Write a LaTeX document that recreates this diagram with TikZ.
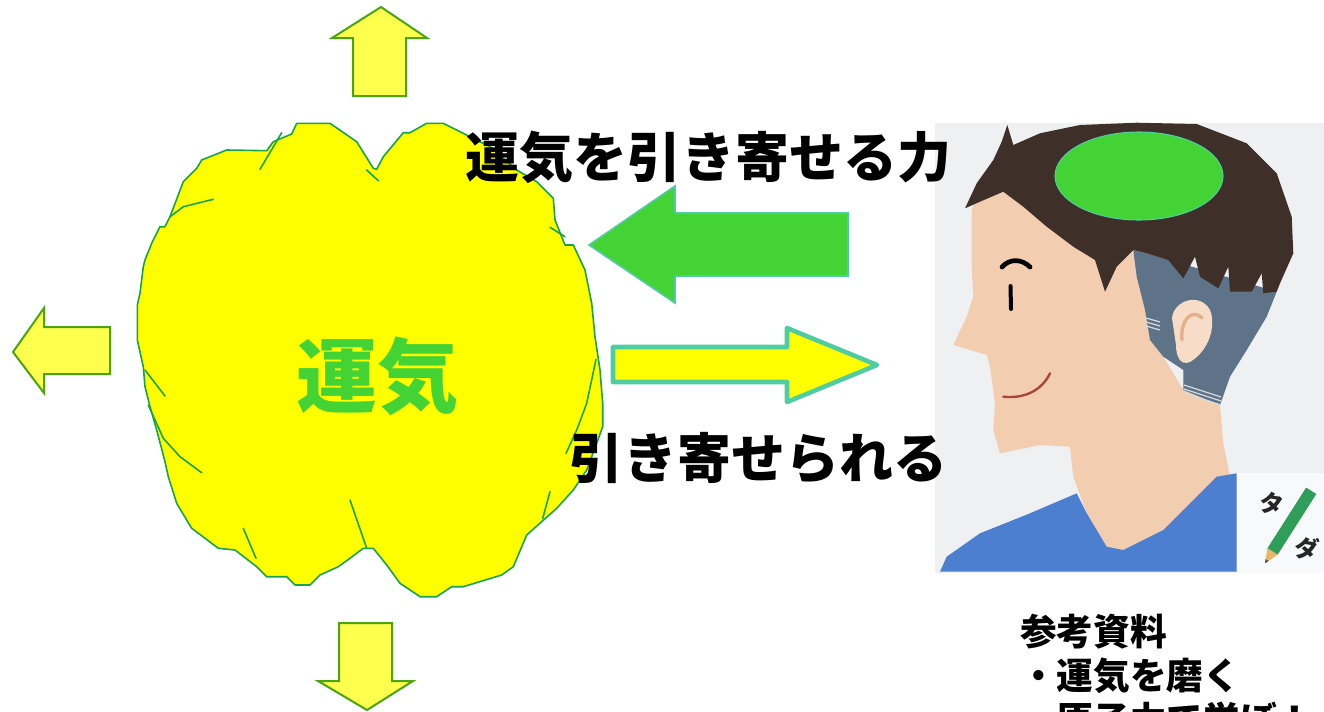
\documentclass[tikz,border=0pt]{standalone}
\usepackage{fontspec}
\newfontfamily\jp{Noto Sans CJK JP}
\definecolor{blobfill}{HTML}{FFFF00}
\definecolor{blobline}{HTML}{17A44C}
\definecolor{smallfill}{HTML}{FFFF4D}
\definecolor{smallline}{HTML}{4AA512}
\definecolor{luckgreen}{HTML}{44D334}
\definecolor{tealline}{HTML}{4FCDA2}
\definecolor{photobg}{HTML}{EEF0F2}
\definecolor{hairdark}{HTML}{3E2F29}
\definecolor{hairgray}{HTML}{5F7388}
\definecolor{skin}{HTML}{F3CDAF}
\definecolor{earlight}{HTML}{F7DDC8}
\definecolor{earshade}{HTML}{E3B08E}
\definecolor{shirt}{HTML}{4C7FCF}
\definecolor{lips}{HTML}{A8453E}
\definecolor{pencilgreen}{HTML}{2E9E5A}
\definecolor{penciltip}{HTML}{E8B56A}
\begin{document}
\begin{tikzpicture}[x=0.75pt,y=-0.75pt,
  smallarrow/.style={fill=smallfill,draw=smallline,line width=1.5pt,line join=miter},
  pullarrow/.style={fill=luckgreen,draw=tealline,line width=1.2pt,line join=miter},
  pushedarrow/.style={fill=blobfill,draw=tealline,line width=3.4pt,line join=round},
  blob/.style={fill=blobfill,draw=blobline,line width=1.2pt,line join=round},
  crease/.style={draw=blobline,line width=1.2pt,line cap=round},
  bigtext/.style={font=\jp\bfseries\fontsize{40.5pt}{44pt}\selectfont,inner sep=0pt},
  notetext/.style={font=\jp\bfseries\fontsize{27.5pt}{33pt}\selectfont,inner sep=0pt,anchor=west},
]
\clip (0,0) rectangle (1324,711);
\fill[white] (0,0) rectangle (1324,711);

% --- outward pointing block arrows around the luck cloud ---
\draw[smallarrow] (381,7) -- (427,38) -- (406,38) -- (406,96) -- (353,96) -- (353,38) -- (332,38) -- cycle;
\draw[smallarrow] (13,352) -- (44,308) -- (44,327) -- (110,327) -- (110,374) -- (44,374) -- (44,393) -- cycle;
\draw[smallarrow] (367,710) -- (413,681) -- (392,681) -- (392,623) -- (339,623) -- (339,681) -- (318,681) -- cycle;

% --- the luck cloud ---
\draw[blob] (296.7,123.3) -- (330,123.3) -- (356.7,141.7) -- (373.3,168.3) -- (376.7,169.3)
  -- (383.3,156.7) -- (403.3,132.7) -- (410,132.7) -- (426.7,123.3) -- (443.3,123.3)
  -- (463.3,133.3) -- (490,146.7) -- (516.7,170) -- (536.7,181.7) -- (553.3,198.3)
  -- (555,220) -- (565,245) -- (573.3,245) -- (585,270) -- (591.7,303.3) -- (595,336.7)
  -- (600,370) -- (602.7,403.3) -- (602.7,426.7) -- (596.7,443.3) -- (586.7,470)
  -- (573.3,490) -- (556.7,508.3) -- (526.7,535) -- (513.3,566.7) -- (501.7,575)
  -- (463.3,586.7) -- (451.7,586.7) -- (436.7,596.7) -- (420,596.7) -- (400,583.3)
  -- (386.7,565) -- (373.3,548.3) -- (363.3,548.3) -- (350,558.3) -- (338.3,566.7)
  -- (320,575) -- (310,585) -- (295,585) -- (286.7,576.7) -- (266.7,576.7) -- (256.7,566.7)
  -- (235,550) -- (218.3,548.3) -- (191.7,528.3) -- (176.7,503.3) -- (168.3,476.7)
  -- (165,461.7) -- (156.7,430) -- (150,406.7) -- (145,386.7) -- (143.3,366.7)
  -- (137.3,340) -- (137.3,305) -- (140,293.3) -- (143.3,266.7) -- (145,260)
  -- (151.7,243.3) -- (160,226.7) -- (165,226.7) -- (170,216.7) -- (183.3,181.7)
  -- (196.7,168.3) -- (201.7,160) -- (226.7,150) -- (266.7,150.7) -- (273.3,141.7)
  -- (291.7,134) -- cycle;
\draw[crease] (260,169.3) -- (281.7,132.7);
\draw[crease] (366.7,170) -- (378.3,180.7);
\draw[crease] (170,216.7) -- (183.3,206.7) -- (213.3,199.3);
\draw[crease] (550,227.3) -- (565,236.7);
\draw[crease] (145,370) -- (165,396);
\draw[crease] (148.3,405) -- (163.3,438.3) -- (180,456.7) -- (201.7,472.7);
\draw[crease] (596,359.3) -- (586.7,403.3) -- (576.7,430) -- (566,453.3);
\draw[crease] (350,500) -- (366.7,548.3);
\draw[crease] (243.3,528.3) -- (256,558.3);
\draw[crease] (550,491.7) -- (542.7,518.3);
\node[font=\jp\bfseries\fontsize{60.75pt}{64pt}\selectfont,inner sep=0pt,text=luckgreen] (luck) at (377,376) {運気};

% --- the pair of arrows between the cloud and the person ---
\draw[pullarrow] (589,245) -- (675,186) -- (675,213) -- (848,213) -- (848,276) -- (675,276) -- (675,303) -- cycle;
\draw[pushedarrow] (613,347) -- (787,347) -- (787,328) -- (877,365) -- (787,402) -- (787,382) -- (613,382) -- cycle;

% --- the person in profile ---
\fill[photobg] (935,123) rectangle (1324,573);
\fill[white!60!photobg] (1237,473) rectangle (1324,573);
\fill[skin] (980,186.7) -- (1096.7,186.7) -- (1136.7,253.3) -- (1145,310) -- (1150,340)
  -- (1163.3,356.7) -- (1183.3,390) -- (1220,405) -- (1223.3,443.3) -- (1230,476.7)
  -- (1220,486.7) -- (1163.3,530) -- (1123.3,550) -- (1106.7,546.7) -- (1086.7,513.3)
  -- (1073.3,476.7) -- (1070,446.7) -- (1040,445) -- (1000,453.3) -- (993.3,430)
  -- (995,403.3) -- (990,366.7) -- (986.7,355) -- (953.3,345) -- (966.7,316.7)
  -- (973.3,296.7) -- (971.7,266.7) -- (971.7,210) -- cycle;
\fill[shirt] (940,571.7) -- (946.7,556.7) -- (980,533.3) -- (1030,513.3) -- (1076.7,493.3)
  -- (1086.7,513.3) -- (1106.7,546.7) -- (1123.3,550) -- (1163.3,530) -- (1216.7,476.7)
  -- (1236.7,473.3) -- (1236.7,571.7) -- cycle;
\fill[hairgray] (1133.3,250) -- (1146.7,253.3) -- (1276.7,291.7) -- (1266.7,316.7)
  -- (1246.7,350) -- (1230,376.7) -- (1220,405) -- (1183.3,390) -- (1183.3,370)
  -- (1163.3,356.7) -- (1150,340) -- (1145,310) -- (1136.7,276.7) -- cycle;
\fill[hairdark] (1001.7,141.7) -- (1007.3,125) -- (1013.3,145) -- (1040,133.3) -- (1080,125)
  -- (1136.7,122.7) -- (1196.7,124) -- (1246.7,143.3) -- (1276.7,173.3) -- (1291.7,216.7)
  -- (1293.3,253.3) -- (1280,283.3) -- (1276.7,291.7) -- (1263.3,293.3) -- (1261.7,273.3)
  -- (1251.7,291.7) -- (1230,291.7) -- (1228.3,266.7) -- (1218.3,288.3) -- (1200,276.7)
  -- (1195,256.7) -- (1183.3,278.3) -- (1168.3,260) -- (1146.7,253.3) -- (1133.3,250)
  -- (1116.7,266.7) -- (1105,291.7) -- (1095,260) -- (1073.3,246.7) -- (1046.7,226.7)
  -- (1023.3,206.7) -- (1003.3,191.7) -- (980,201.7) -- (965,208.3) -- (976.7,183.3)
  -- (993.3,160) -- cycle;
% ear
\fill[earlight] (1172,318) .. controls (1174,300) and (1200,292) .. (1210,310)
  .. controls (1216,325) and (1210,350) .. (1190,362)
  .. controls (1180,366) and (1176,356) .. (1176,345) -- cycle;
\draw[earshade,line width=2.5pt,line cap=round] (1182,340) .. controls (1180,320) and (1192,308) .. (1202,318);
% trimmed lines in the short hair
\foreach \d in {0,4,8} {
  \draw[white!75!hairgray,line width=0.9pt] (1146,{318+\d}) -- (1160,{322+\d});
  \draw[white!75!hairgray,line width=0.9pt] (1184,{385+\d}) -- (1221,{397+\d});
}
% face details
\draw[black,line width=3.5pt,line cap=round] (1002,267) .. controls (1010,258) and (1022,259) .. (1030,267);
\draw[black,line width=3pt,line cap=round] (1010.5,286) -- (1011,309);
\draw[lips,line width=1.8pt,line cap=round] (1003.3,396.7) .. controls (1025,399) and (1042,390) .. (1050,373.3);
% crown mark
\draw[fill=luckgreen,draw=tealline,line width=0.8pt] (1139,176) ellipse [x radius=84,y radius=44];
% pencil with its little marks
\fill[pencilgreen] (1277.6,554.7) -- (1267.4,548.3) -- (1306.1,487.6) -- (1316.3,494.0) -- cycle;
\fill[penciltip] (1265,563.3) -- (1277.6,554.7) -- (1267.4,548.3) -- cycle;
\fill[black!70] (1265,563.3) -- (1268.5,560.9) -- (1265.6,559.1) -- cycle;
\node[font=\jp\bfseries\fontsize{18pt}{18pt}\selectfont,inner sep=0pt,rotate=-10,text=black!85] (markta) at (1272,503) {タ};
\node[font=\jp\bfseries\fontsize{18pt}{18pt}\selectfont,inner sep=0pt,rotate=-10,text=black!85] (markda) at (1307,548) {ダ};

% --- captions ---
\node[bigtext] (attract) at (708.5,157) {運気を引き寄せる力};
\node[bigtext] (attracted) at (758,458) {引き寄せられる};
\node[notetext] (ref) at (1020,632) {参考資料};
\node[notetext] (ref1) at (1020,676) {・運気を磨く};
\node[notetext] (ref2) at (1020,720) {・原子力で学ぼ！};
\end{tikzpicture}
\end{document}
